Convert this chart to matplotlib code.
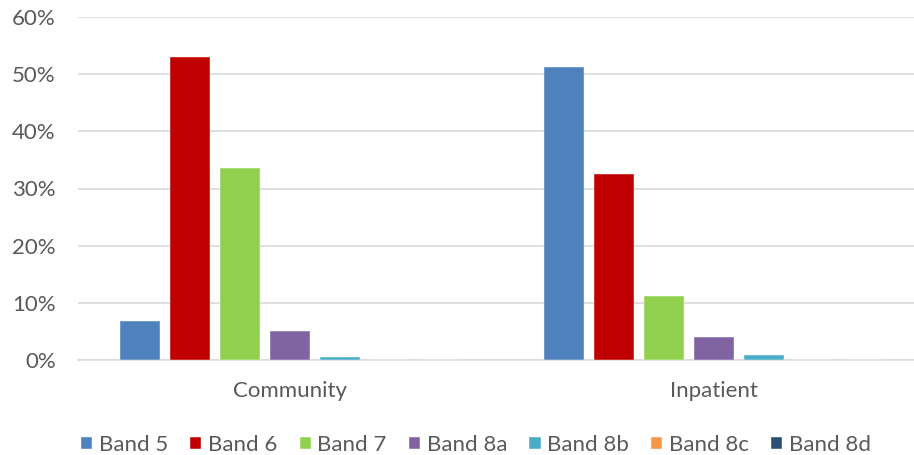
import matplotlib
matplotlib.use("Agg")
import matplotlib.pyplot as plt
import numpy as np

# Share of staff by band in each setting (percent)
settings = ["Community", "Inpatient"]
bands = ["Band 5", "Band 6", "Band 7", "Band 8a", "Band 8b", "Band 8c", "Band 8d"]
community = [6.9, 53.0, 33.5, 5.1, 0.6, 0.0, 0.0]
inpatient = [51.2, 32.6, 11.2, 4.0, 0.9, 0.0, 0.0]
band_colors = ["#4F81BD", "#C00000", "#92D050", "#8064A2", "#4BACC6", "#F79646", "#2C4D75"]
y_ticks = [0, 10, 20, 30, 40, 50, 60]
y_tick_labels = ["0%", "10%", "20%", "30%", "40%", "50%", "60%"]

plt.rcParams["font.family"] = ["Lato", "DejaVu Sans"]
TEXT = "#595959"
GRID = "#D9D9D9"

W, H = 914, 455
fig = plt.figure(figsize=(W / 100, H / 100), dpi=100)
# axes spans pixel x 78..926 (right part runs past the image edge), y 17..360
ax = fig.add_axes([78 / W, (H - 360) / H, 848 / W, 343 / H])

values = np.array([community, inpatient])  # shape (settings, bands)
x = np.arange(len(settings))
step = 50 / 424
width = 40 / 424
n = len(bands)
for i, (band, color) in enumerate(zip(bands, band_colors)):
    offs = (i - (n - 1) / 2) * step
    ax.bar(x + offs, values[:, i], width=width, color=color, label=band,
           edgecolor="white", linewidth=0.3, zorder=3)

ax.set_xlim(-0.5, 1.5)
ax.set_ylim(0, 60)
ax.set_yticks(y_ticks)
ax.set_yticklabels(y_tick_labels)
ax.set_xticks(x)
ax.set_xticklabels(settings)

ax.yaxis.grid(True, color=GRID, linewidth=1.2, zorder=0)
ax.set_axisbelow(True)
for side in ["top", "right", "left"]:
    ax.spines[side].set_visible(False)
ax.spines["bottom"].set_color(GRID)
ax.spines["bottom"].set_linewidth(1.2)
ax.spines["bottom"].set_zorder(1)

ax.tick_params(axis="y", length=0, pad=16, labelsize=16, labelcolor=TEXT)
ax.tick_params(axis="x", length=0, pad=15, labelsize=16, labelcolor=TEXT)

fig.legend(loc="center", bbox_to_anchor=(476 / W, (H - 445) / H), ncol=7,
           frameon=False, fontsize=16, labelcolor=TEXT,
           handlelength=0.5, handleheight=0.5, handletextpad=0.3,
           columnspacing=1.0, borderpad=0, borderaxespad=0)

fig.savefig("out.png", dpi=100, facecolor="white")
